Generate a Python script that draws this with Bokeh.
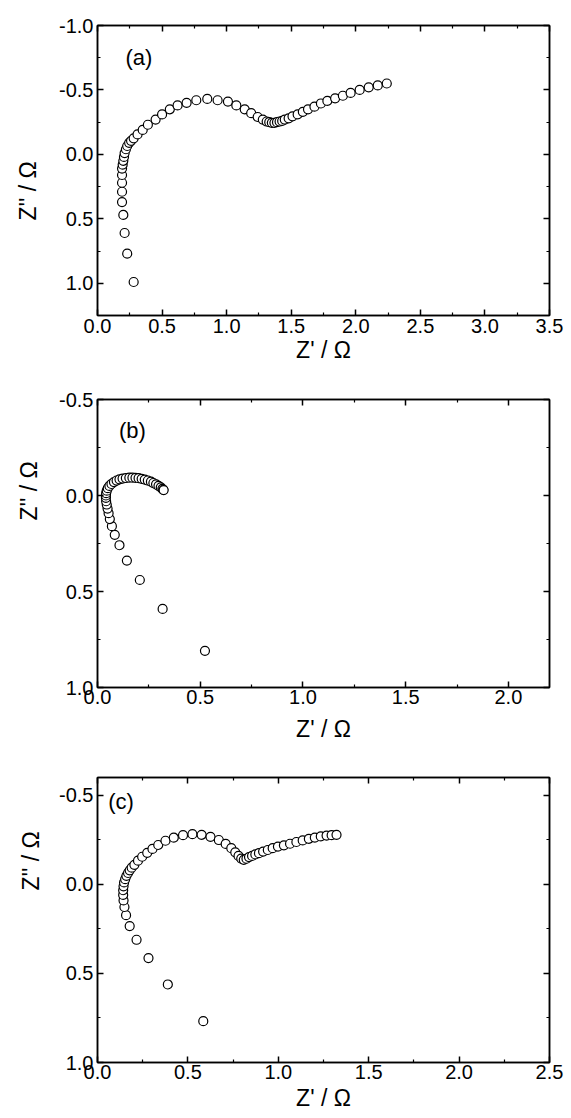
from bokeh.plotting import figure
from bokeh.layouts import column
from bokeh.models import Range1d, FixedTicker, LinearAxis, NumeralTickFormatter, Label, Title
from bokeh.embed import file_html
from bokeh.resources import INLINE

# ---------------- data ----------------
# panel (a)
a_zre = [0.28, 0.23, 0.21, 0.20, 0.19, 0.19, 0.19, 0.19, 0.19, 0.195, 0.20, 0.205,
         0.21, 0.22, 0.23, 0.245, 0.26, 0.28, 0.31, 0.35, 0.39, 0.45, 0.50, 0.56,
         0.62, 0.69, 0.765, 0.85, 0.93, 1.01, 1.075, 1.14, 1.19, 1.24, 1.28, 1.31,
         1.33, 1.35, 1.37, 1.39, 1.41, 1.43, 1.45, 1.48, 1.51, 1.55, 1.59, 1.63,
         1.68, 1.73, 1.78, 1.84, 1.90, 1.96, 2.03, 2.10, 2.17, 2.24]
a_zim = [0.99, 0.77, 0.61, 0.47, 0.37, 0.29, 0.22, 0.16, 0.11, 0.08, 0.05, 0.02,
         -0.01, -0.04, -0.065, -0.09, -0.105, -0.125, -0.155, -0.19, -0.23, -0.27,
         -0.31, -0.35, -0.38, -0.40, -0.42, -0.43, -0.42, -0.41, -0.38, -0.35,
         -0.32, -0.29, -0.27, -0.255, -0.25, -0.245, -0.245, -0.25, -0.255, -0.26,
         -0.27, -0.28, -0.295, -0.31, -0.33, -0.35, -0.37, -0.395, -0.415, -0.435,
         -0.455, -0.477, -0.50, -0.52, -0.535, -0.55]
a_xticks = [0.0, 0.5, 1.0, 1.5, 2.0, 2.5, 3.0, 3.5]
a_xminor = [0.25, 0.75, 1.25, 1.75, 2.25, 2.75, 3.25]
a_yticks = [-1.0, -0.5, 0.0, 0.5, 1.0]
a_yminor = [-0.75, -0.25, 0.25, 0.75]

# panel (b)
b_zre = [0.523, 0.317, 0.206, 0.143, 0.107, 0.084, 0.070, 0.060, 0.054, 0.049,
         0.045, 0.042, 0.041, 0.041, 0.042, 0.045, 0.050, 0.058, 0.068, 0.080,
         0.093, 0.107, 0.122, 0.138, 0.155, 0.170, 0.185, 0.200, 0.215, 0.230,
         0.245, 0.260, 0.272, 0.285, 0.297, 0.308, 0.316, 0.320, 0.322]
b_zim = [0.809, 0.591, 0.440, 0.339, 0.259, 0.205, 0.160, 0.123, 0.092, 0.068,
         0.047, 0.030, 0.012, 0.0, -0.012, -0.025, -0.038, -0.050, -0.060, -0.070,
         -0.078, -0.084, -0.088, -0.091, -0.093, -0.093, -0.092, -0.090, -0.087,
         -0.083, -0.078, -0.072, -0.065, -0.058, -0.050, -0.042, -0.035, -0.030,
         -0.028]
b_xticks = [0.0, 0.5, 1.0, 1.5, 2.0]
b_xminor = [0.25, 0.75, 1.25, 1.75]
b_yticks = [-0.5, 0.0, 0.5, 1.0]
b_yminor = [-0.25, 0.25, 0.75]

# panel (c)
c_zre = [0.585, 0.389, 0.282, 0.216, 0.178, 0.158, 0.149, 0.144, 0.142, 0.142,
         0.144, 0.147, 0.153, 0.160, 0.169, 0.178, 0.189, 0.204, 0.224, 0.247,
         0.275, 0.304, 0.336, 0.376, 0.422, 0.473, 0.525, 0.576, 0.625, 0.671,
         0.709, 0.740, 0.762, 0.780, 0.795, 0.809, 0.824, 0.838, 0.855, 0.873,
         0.893, 0.916, 0.942, 0.969, 0.998, 1.031, 1.065, 1.100, 1.135, 1.169,
         1.202, 1.235, 1.267, 1.295, 1.322]
c_zim = [0.768, 0.562, 0.414, 0.311, 0.234, 0.173, 0.127, 0.090, 0.059, 0.033,
         0.011, -0.011, -0.029, -0.048, -0.064, -0.079, -0.094, -0.110, -0.133,
         -0.155, -0.177, -0.199, -0.221, -0.245, -0.262, -0.276, -0.282, -0.278,
         -0.267, -0.249, -0.227, -0.203, -0.180, -0.160, -0.145, -0.138, -0.144,
         -0.153, -0.160, -0.168, -0.175, -0.184, -0.193, -0.203, -0.212, -0.219,
         -0.228, -0.238, -0.247, -0.256, -0.263, -0.269, -0.274, -0.276, -0.278]
c_xticks = [0.0, 0.5, 1.0, 1.5, 2.0, 2.5]
c_xminor = [0.25, 0.75, 1.25, 1.75, 2.25]
c_yticks = [-0.5, 0.0, 0.5, 1.0]
c_yminor = [-0.25, 0.25, 0.75]

x_title = "Z' / Ω"
y_title = "Z'' / Ω"
FONT = "Liberation Sans"


def style_axis(ax, ticks, minor, labels=True, standoff=3):
    ax.ticker = FixedTicker(ticks=ticks, minor_ticks=minor)
    ax.formatter = NumeralTickFormatter(format="0.0")
    ax.major_tick_in = 6
    ax.major_tick_out = 0
    ax.minor_tick_in = 3
    ax.minor_tick_out = 0
    ax.axis_line_color = "black"
    ax.axis_line_width = 1.5
    ax.major_tick_line_color = "black"
    ax.major_tick_line_width = 1.5
    ax.minor_tick_line_color = "black"
    ax.minor_tick_line_width = 1.2
    ax.major_label_text_font = FONT
    ax.major_label_text_color = "black"
    ax.major_label_text_font_size = "20px"
    if labels:
        ax.major_label_standoff = standoff
    else:
        ax.major_label_overrides = {t: "" for t in ticks}
        ax.major_label_standoff = 0


def panel(zre, zim, xr, yr, xt, xm, yt, ym, w, h, bl, br, bt, bb,
          tag, tag_xy, xlab_standoff, xtick_standoff, ylab_offset, ylab_standoff):
    p = figure(width=w, height=h, x_range=Range1d(*xr), y_range=Range1d(*yr),
               output_backend="svg", toolbar_location=None,
               min_border_left=bl, min_border_right=br,
               min_border_top=bt, min_border_bottom=bb)
    p.grid.visible = False
    p.outline_line_color = "black"
    p.outline_line_width = 1.5
    bx = p.xaxis[0]
    ly = p.yaxis[0]
    style_axis(bx, xt, xm, standoff=xtick_standoff)
    style_axis(ly, yt, ym, standoff=4)
    bx.axis_label = x_title
    bx.axis_label_text_font = FONT
    bx.axis_label_text_font_size = "23px"
    bx.axis_label_text_font_style = "normal"
    bx.axis_label_text_color = "black"
    bx.axis_label_standoff = xlab_standoff
    top = LinearAxis()
    style_axis(top, xt, xm, labels=False)
    p.add_layout(top, "above")
    right = LinearAxis()
    style_axis(right, yt, ym, labels=False)
    p.add_layout(right, "right")

    p.add_layout(Title(text=y_title, align="left", offset=ylab_offset,
                       vertical_align="top", standoff=ylab_standoff, text_font=FONT,
                       text_font_size="23px", text_font_style="normal",
                       text_color="black"), "left")

    p.scatter(zre, zim, marker="circle", size=9, fill_color="white",
              line_color="black", line_width=1.2)

    p.add_layout(Label(x=tag_xy[0], y=tag_xy[1], text=tag, text_font=FONT,
                       text_font_size="22px", text_align="center",
                       text_baseline="middle", text_color="black"))
    return p


pa = panel(a_zre, a_zim, (0.0, 3.5), (1.25, -1.0), a_xticks, a_xminor,
           a_yticks, a_yminor, 565, 370, 97, 12, 25, 55,
           "(a)", (0.32, -0.75), 1, 3, 95, 28)
pb = panel(b_zre, b_zim, (0.0, 2.2), (1.0, -0.5), b_xticks, b_xminor,
           b_yticks, b_yminor, 565, 378, 95, 14, 29, 61,
           "(b)", (0.17, -0.34), 9, 2, 167, 26)
pc = panel(c_zre, c_zim, (0.0, 2.5), (1.0, -0.6), c_xticks, c_xminor,
           c_yticks, c_yminor, 565, 369, 91, 16, 29, 55,
           "(c)", (0.13, -0.466), 3, 2, 172, 22)

layout = column(pa, pb, pc, spacing=0)
open("out.html", "w").write(file_html(layout, INLINE))
